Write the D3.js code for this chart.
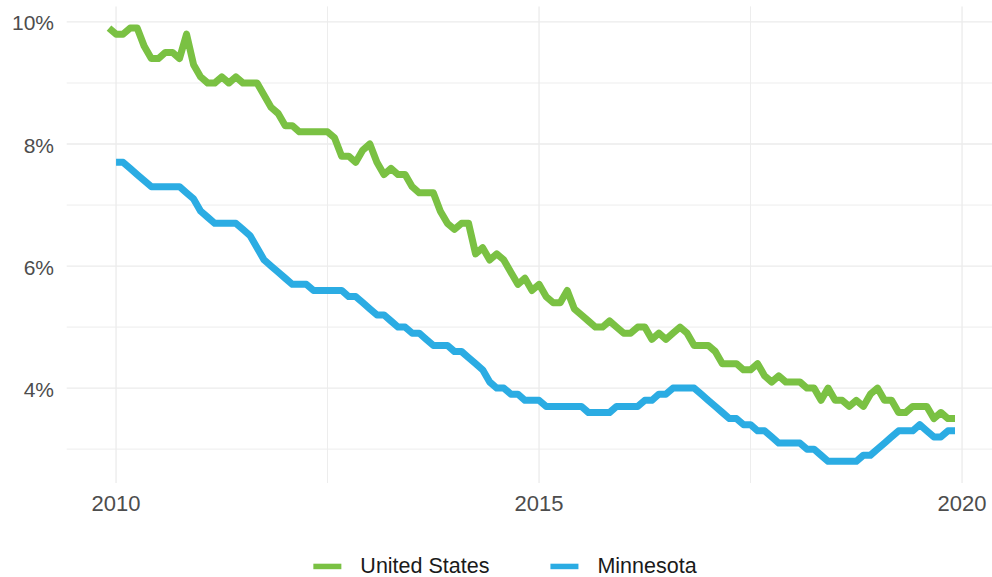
<html>
  <head>
    <script src="https://d3js.org/d3.v7.min.js"></script>
    <style>
      body { margin: 0; background: #fff; }
      text { font-family: "Liberation Sans", Arial, sans-serif; }
    </style>
  </head>
  <body>
    <div id="chart"></div>
    <script>
      // monthly unemployment rate, %
      var usStart = [2009, 11]; // Dec 2009
      var usRate = [
        9.9,
        9.8, 9.8, 9.9, 9.9, 9.6, 9.4, 9.4, 9.5, 9.5, 9.4, 9.8, 9.3,
        9.1, 9.0, 9.0, 9.1, 9.0, 9.1, 9.0, 9.0, 9.0, 8.8, 8.6, 8.5,
        8.3, 8.3, 8.2, 8.2, 8.2, 8.2, 8.2, 8.1, 7.8, 7.8, 7.7, 7.9,
        8.0, 7.7, 7.5, 7.6, 7.5, 7.5, 7.3, 7.2, 7.2, 7.2, 6.9, 6.7,
        6.6, 6.7, 6.7, 6.2, 6.3, 6.1, 6.2, 6.1, 5.9, 5.7, 5.8, 5.6,
        5.7, 5.5, 5.4, 5.4, 5.6, 5.3, 5.2, 5.1, 5.0, 5.0, 5.1, 5.0,
        4.9, 4.9, 5.0, 5.0, 4.8, 4.9, 4.8, 4.9, 5.0, 4.9, 4.7, 4.7,
        4.7, 4.6, 4.4, 4.4, 4.4, 4.3, 4.3, 4.4, 4.2, 4.1, 4.2, 4.1,
        4.1, 4.1, 4.0, 4.0, 3.8, 4.0, 3.8, 3.8, 3.7, 3.8, 3.7, 3.9,
        4.0, 3.8, 3.8, 3.6, 3.6, 3.7, 3.7, 3.7, 3.5, 3.6, 3.5, 3.5
      ];
      var mnStart = [2010, 0]; // Jan 2010
      var mnRate = [
        7.7, 7.7, 7.6, 7.5, 7.4, 7.3, 7.3, 7.3, 7.3, 7.3, 7.2, 7.1,
        6.9, 6.8, 6.7, 6.7, 6.7, 6.7, 6.6, 6.5, 6.3, 6.1, 6.0, 5.9,
        5.8, 5.7, 5.7, 5.7, 5.6, 5.6, 5.6, 5.6, 5.6, 5.5, 5.5, 5.4,
        5.3, 5.2, 5.2, 5.1, 5.0, 5.0, 4.9, 4.9, 4.8, 4.7, 4.7, 4.7,
        4.6, 4.6, 4.5, 4.4, 4.3, 4.1, 4.0, 4.0, 3.9, 3.9, 3.8, 3.8,
        3.8, 3.7, 3.7, 3.7, 3.7, 3.7, 3.7, 3.6, 3.6, 3.6, 3.6, 3.7,
        3.7, 3.7, 3.7, 3.8, 3.8, 3.9, 3.9, 4.0, 4.0, 4.0, 4.0, 3.9,
        3.8, 3.7, 3.6, 3.5, 3.5, 3.4, 3.4, 3.3, 3.3, 3.2, 3.1, 3.1,
        3.1, 3.1, 3.0, 3.0, 2.9, 2.8, 2.8, 2.8, 2.8, 2.8, 2.9, 2.9,
        3.0, 3.1, 3.2, 3.3, 3.3, 3.3, 3.4, 3.3, 3.2, 3.2, 3.3, 3.3
      ];
      var seriesNames = ["United States", "Minnesota"];
      var seriesColors = ["#7AC143", "#2BACE3"];
      var xTicks = [2010, 2015, 2020];
      var xMinor = [2012.5, 2017.5];
      var yTicks = [4, 6, 8, 10];
      var yMinor = [3, 5, 7, 9];

      function toSeries(start, values) {
        return values.map(function(v, i) {
          return { t: start[0] + (start[1] + i) / 12, value: v };
        });
      }

      var series = [toSeries(usStart, usRate), toSeries(mnStart, mnRate)];

      var width = 992, height = 577;
      var panel = { left: 66.7, top: 6.4, bottom: 483 };

      var allT = series[0].concat(series[1]).map(function(d) { return d.t; });
      var allV = series[0].concat(series[1]).map(function(d) { return d.value; });
      var tMin = d3.min(allT), tMax = d3.max(allT);
      var vMin = d3.min(allV), vMax = d3.max(allV);
      var tPad = (tMax - tMin) * 0.05, vPad = (vMax - vMin) * 0.05;
      var pxPerYear = 84.6;

      var x = d3.scaleLinear()
        .domain([tMin - tPad, tMax + tPad])
        .range([panel.left, panel.left + (tMax - tMin + 2 * tPad) * pxPerYear]);

      var y = d3.scaleLinear()
        .domain([vMin - vPad, vMax + vPad])
        .range([panel.bottom, panel.top]);

      var svg = d3.select("#chart")
        .append("svg")
          .attr("width", width)
          .attr("height", height);

      var right = x.range()[1];

      // grid
      var grid = svg.append("g");
      grid.selectAll(".ymin").data(yMinor).enter().append("line")
        .attr("x1", panel.left).attr("x2", right)
        .attr("y1", function(d) { return y(d); }).attr("y2", function(d) { return y(d); })
        .attr("stroke", "#EDEDED").attr("stroke-width", 1);
      grid.selectAll(".xmin").data(xMinor).enter().append("line")
        .attr("y1", panel.top).attr("y2", panel.bottom)
        .attr("x1", function(d) { return x(d); }).attr("x2", function(d) { return x(d); })
        .attr("stroke", "#EDEDED").attr("stroke-width", 1);
      grid.selectAll(".ymaj").data(yTicks).enter().append("line")
        .attr("x1", panel.left).attr("x2", right)
        .attr("y1", function(d) { return y(d); }).attr("y2", function(d) { return y(d); })
        .attr("stroke", "#EBEBEB").attr("stroke-width", 1.3);
      grid.selectAll(".xmaj").data(xTicks).enter().append("line")
        .attr("y1", panel.top).attr("y2", panel.bottom)
        .attr("x1", function(d) { return x(d); }).attr("x2", function(d) { return x(d); })
        .attr("stroke", "#EBEBEB").attr("stroke-width", 1.3);

      // axis labels
      svg.append("g").selectAll("text").data(yTicks).enter().append("text")
        .attr("x", 54)
        .attr("y", function(d) { return y(d) + 8.5; })
        .attr("text-anchor", "end")
        .attr("font-size", 21)
        .attr("fill", "#4D4D4D")
        .text(function(d) { return d + "%"; });

      svg.append("g").selectAll("text").data(xTicks).enter().append("text")
        .attr("x", function(d) { return x(d); })
        .attr("y", 511)
        .attr("text-anchor", "middle")
        .attr("font-size", 22)
        .attr("fill", "#4D4D4D")
        .text(function(d) { return d; });

      // lines
      var line = d3.line()
        .x(function(d) { return x(d.t); })
        .y(function(d) { return y(d.value); });

      svg.append("g").selectAll("path").data(series).enter().append("path")
        .attr("fill", "none")
        .attr("stroke", function(d, i) { return seriesColors[i]; })
        .attr("stroke-width", 7)
        .attr("stroke-linejoin", "round")
        .attr("stroke-linecap", "butt")
        .attr("d", line);

      // legend
      var legend = svg.append("g");
      var items = legend.selectAll("g").data(seriesNames).enter().append("g");
      items.append("rect")
        .attr("width", 28).attr("height", 5.5)
        .attr("y", 563.7)
        .attr("fill", function(d, i) { return seriesColors[i]; });
      items.append("text")
        .attr("x", 47)
        .attr("y", 572.5)
        .attr("font-size", 21.5)
        .attr("fill", "#1A1A1A")
        .text(function(d) { return d; });

      var offsets = [], total = 0;
      items.each(function(d, i) {
        var w = 47 + this.querySelector("text").getComputedTextLength();
        offsets.push(total);
        total += w + (i < seriesNames.length - 1 ? 61 : 0);
      });
      var startX = 505 - total / 2;
      items.attr("transform", function(d, i) { return "translate(" + (startX + offsets[i]) + ",0)"; });
    </script>
  </body>
</html>
